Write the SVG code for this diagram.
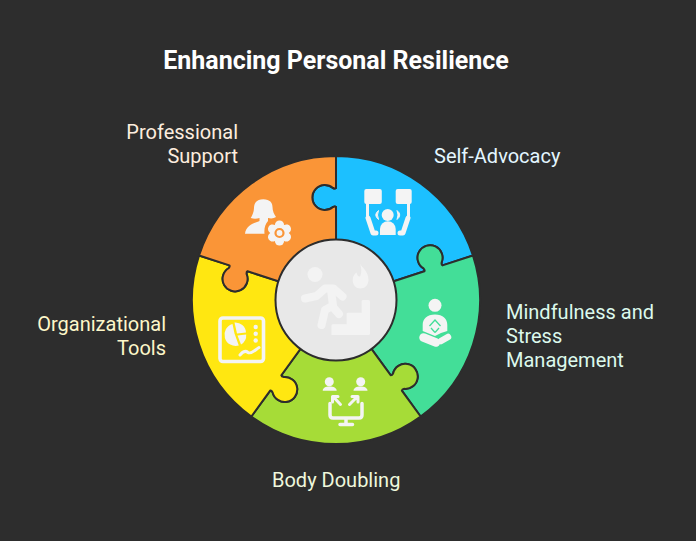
<svg xmlns="http://www.w3.org/2000/svg" width="696" height="541" viewBox="0 0 696 541">
<style>
.bg{fill:#2d2d2d}
.piece{stroke:#2d2d2d;stroke-width:2;stroke-linejoin:round}
.t{font-family:Roboto,"Liberation Sans",sans-serif;font-size:20px;font-weight:400}
.title{font-family:Roboto,"Liberation Sans",sans-serif;font-size:25px;font-weight:700;fill:#fff}
.i{fill:#f4f4f4}
.l{fill:none;stroke:#f4f4f4;stroke-linecap:round;stroke-linejoin:round}
.c{fill:#f3f3f3}
.cl{fill:none;stroke:#f3f3f3;stroke-linecap:round;stroke-linejoin:round;stroke-width:8}
</style>
<defs>
<path id="p" d="M0,-60 L0,-93 Q-1,-94 -3,-93 A12.5 12.5 0 1 1 -3,-112 Q-1,-111 0,-112 L0,-144 A144 144 0 0 1 136.95,-44.5 L106.5,-34.6 Q105.3,-35.3 105.6,-37.5 A12.5 12.5 0 1 0 87.5,-31.6 Q89.1,-30 88.4,-28.7 L57.1,-18.5 A60 60 0 0 0 0,-60 Z"/>
</defs>
<rect class="bg" width="696" height="541"/>
<text class="title" x="336" y="69" text-anchor="middle">Enhancing Personal Resilience</text>

<g id="node-self-advocacy">
<use href="#p" class="piece" fill="#1cc0ff" transform="translate(336 300)"/>
<rect class="i" x="364.300" y="189" width="17.500" height="15" rx="2"/>
<rect class="i" x="395.700" y="189" width="16" height="15" rx="2"/>
<path class="l" stroke-width="3" d="M367.500,203V216M408.500,203V216"/>
<path class="l" stroke-width="5" d="M368,218L373,233H376M408,218L403,233H400"/>
<circle class="i" cx="387.700" cy="215" r="6"/>
<path class="i" d="M380,235V229a7.800,7.800 0 0 1 15.700,0V235Z"/>
<path class="i" d="M378.500,210.500Q373,215 378.500,219.500Q376.500,215 378.500,210.500ZM397,210.500Q402.500,215 397,219.500Q399,215 397,210.500Z" stroke="#f4f4f4" stroke-width="1"/>
<text class="t" x="434" y="163" fill="#e3f6ff">Self-Advocacy</text>
</g>

<g id="node-mindfulness">
<use href="#p" class="piece" fill="#43de98" transform="translate(336 300) rotate(72)"/>
<circle class="i" cx="435" cy="305.300" r="6.500"/>
<path class="i" d="M435,314.500C427,314.500 422.700,319 422.700,325V331L430,334L435,336L441,333L447.300,331V325C447.300,319 443,314.500 435,314.500Z"/>
<path d="M429.500,326L435,320L440.500,326M431,328L435,332.500M439,328L435,332.500" fill="none" stroke="#43de98" stroke-width="1.300"/>
<path class="l" stroke-width="8.500" d="M423.500,337.500L436,342.500"/>
<path class="l" stroke-width="6.500" d="M448,337L441,341"/>
<text class="t" fill="#dcf9ec"><tspan x="506" y="319">Mindfulness and</tspan><tspan x="506" y="343">Stress</tspan><tspan x="506" y="367">Management</tspan></text>
</g>

<g id="node-body-doubling">
<use href="#p" class="piece" fill="#a6dc37" transform="translate(336 300) rotate(144)"/>
<circle class="i" cx="329.300" cy="381.700" r="4.500"/>
<path class="i" d="M322.700,390.700C322.700,388 325.500,386.500 329.500,386.500C333.500,386.500 336.700,388 336.700,390.700Z"/>
<circle class="i" cx="360.700" cy="381.700" r="4.500"/>
<path class="i" d="M353.500,390.700C353.500,388 356.500,386.500 360.500,386.500C364.500,386.500 367.500,388 367.500,390.700Z"/>
<path class="l" stroke-width="3" d="M340.500,404.500L333.500,397M332.500,402V396.500H338M349.500,404.500L357,397M352,396.500H358V402"/>
<path class="l" stroke-width="3.500" d="M330,403.500V415Q330,418 333,418H359Q362,418 362,415V403.500M346,418V424M340,424.500H352.500"/>
<text class="t" x="272" y="487" fill="#eff8dc">Body Doubling</text>
</g>

<g id="node-organizational-tools">
<use href="#p" class="piece" fill="#ffe711" transform="translate(336 300) rotate(216)"/>
<rect x="220" y="318" width="43.500" height="43.500" rx="3" fill="none" stroke="#f4f4f4" stroke-width="3.600"/>
<path class="i" d="M232.500,324A10.700,10.700 0 1 0 238.800,345.500L234.500,333.500Z"/>
<path class="i" d="M234.500,322.500A10.700,10.700 0 0 1 246,332.500L237,333.500Z"/>
<path class="i" d="M237.500,335.500L246.200,334.500A10.700,10.700 0 0 1 241,344.500Z"/>
<circle class="i" cx="255.700" cy="327" r="2.200"/>
<circle class="i" cx="255.700" cy="333.700" r="2.200"/>
<circle class="i" cx="255.700" cy="340.500" r="2.200"/>
<path class="l" stroke-width="3" d="M240,355C242.500,352 245,350 248,352.500C251,354.500 255,350 259,347.500"/>
<text class="t" fill="#fdf7c9" text-anchor="end"><tspan x="166" y="331">Organizational</tspan><tspan x="166" y="355">Tools</tspan></text>
</g>

<g id="node-professional-support">
<use href="#p" class="piece" fill="#fa9537" transform="translate(336 300) rotate(288)"/>
<path class="i" d="M263.300,199.300C256,199.300 254,204 254,208C254,212 252,216 250.700,218C254,219 257,218.700 259.500,218V221C256,222.500 246,225 245,233.700H264.500C264,229 265,224 268,221V218C271,218.700 274,218.500 276,217C274,214 272.500,211 272.500,207C272.500,203 270,199.300 263.300,199.300Z"/>
<g transform="translate(279.500 233)">
<circle r="14" fill="#fa9537"/>
<circle class="i" r="8"/>
<g class="i"><circle cy="-8" r="4.600"/><circle cy="-8" r="4.600" transform="rotate(60)"/><circle cy="-8" r="4.600" transform="rotate(120)"/><circle cy="-8" r="4.600" transform="rotate(180)"/><circle cy="-8" r="4.600" transform="rotate(240)"/><circle cy="-8" r="4.600" transform="rotate(300)"/></g>
<circle r="4" fill="none" stroke="#fa9537" stroke-width="2.200"/>
</g>
<text class="t" fill="#fdeddf" text-anchor="end"><tspan x="238" y="139">Professional</tspan><tspan x="238" y="163">Support</tspan></text>
</g>

<g id="node-center">
<circle cx="336" cy="300" r="60.500" fill="#e8e8e8" stroke="#2d2d2d" stroke-width="2"/>
<circle class="c" cx="315" cy="274.500" r="7.500"/>
<path class="cl" d="M305,298.500L316.500,296L325,288.500H333.500L342.500,296.500"/>
<path class="cl" d="M331,290L333,305.500L325,310L321.500,325"/>
<path class="cl" stroke-width="7" d="M332,306L339,314"/>
<path class="c" d="M360,263.500C362,268 368.500,271 368.500,280C368.500,285 364.500,288.500 360.500,288.500C356,288.500 352.700,285 352.700,280C352.700,276 355,273.500 356.500,272.500C357,275 358,276.500 360,276.500C362,273 361.500,268 360,263.500Z"/>
<path class="c" d="M331.500,335V325.500Q331.500,324.300 333,324.300H346.700V313.500Q346.700,312.700 348,312.700H361.700V301Q361.700,300 363,300H368.500Q370,300 370,301.500V333.500Q370,335 368.500,335Z"/>
</g>
</svg>
